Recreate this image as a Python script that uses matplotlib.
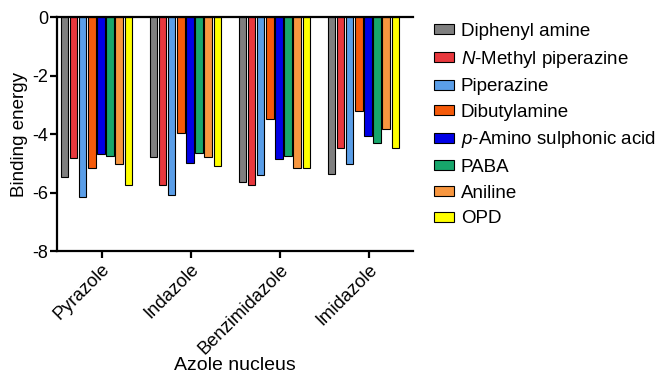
import matplotlib
matplotlib.use("Agg")
import matplotlib.pyplot as plt
import numpy as np

plt.rcParams['font.family'] = ['Liberation Sans', 'DejaVu Sans']
plt.rcParams['mathtext.fontset'] = 'custom'
plt.rcParams['mathtext.rm'] = 'Liberation Sans'
plt.rcParams['mathtext.it'] = 'Liberation Sans:italic'

categories = ["Pyrazole", "Indazole", "Benzimidazole", "Imidazole"]
series_names = ["Diphenyl amine", r"$\it{N}$-Methyl piperazine", "Piperazine", "Dibutylamine",
                r"$\it{p}$-Amino sulphonic acid", "PABA", "Aniline", "OPD"]
diphenyl_amine = [-5.46, -4.79, -5.63, -5.37]
n_methyl_piperazine = [-4.83, -5.74, -5.74, -4.49]
piperazine = [-6.16, -6.08, -5.40, -5.03]
dibutylamine = [-5.15, -3.97, -3.49, -3.21]
p_amino_sulphonic = [-4.68, -5.00, -4.86, -4.07]
paba = [-4.75, -4.66, -4.74, -4.32]
aniline = [-5.02, -4.79, -5.17, -3.83]
opd = [-5.74, -5.08, -5.17, -4.47]
series = [diphenyl_amine, n_methyl_piperazine, piperazine, dibutylamine,
          p_amino_sulphonic, paba, aniline, opd]
colors = ["#7f7f7f", "#e8383d", "#5a9ee8", "#f55a0a", "#0000e6", "#17a66b", "#f7963f", "#ffff00"]

fig = plt.figure(figsize=(6.6, 3.76), dpi=100)
ax = fig.add_axes([57/660, 1-251/376, 356/660, 233.7/376])

x = np.arange(len(categories))
slot = 0.102
width = 0.082
offset0 = -0.057
for i, (vals, c, name) in enumerate(zip(series, colors, series_names)):
    pos = x + offset0 + (i - 3.5) * slot
    ax.bar(pos, vals, width=width, color=c, edgecolor='black', linewidth=0.8, label=name)

ax.set_xlim(-0.5, 3.5)
ax.set_ylim(-8, 0)
ax.set_yticks([0, -2, -4, -6, -8])
ax.set_yticklabels(["0", "-2", "-4", "-6", "-8"])
ax.set_xticks(x)
ax.set_xticklabels(categories, rotation=45, ha='right', rotation_mode='anchor')
for s in ['left', 'bottom', 'top']:
    ax.spines[s].set_linewidth(1.6)
ax.spines['right'].set_visible(False)
ax.tick_params(axis='both', width=1.6, length=5, labelsize=13, pad=1.5, direction='out')
ax.tick_params(axis='x', pad=2, labelsize=13.2)
ax.set_ylabel("Binding energy", fontsize=13.5, labelpad=3)
ax.set_xlabel("Azole nucleus", fontsize=14, va='center')
ax.xaxis.set_label_coords(0.5, (251 - 365) / 233.7)

fig.legend(loc='upper left', bbox_to_anchor=(434/660, 1-23/376), frameon=False,
           fontsize=13.5, handlelength=1.07, handleheight=0.45, handletextpad=0.37,
           labelspacing=0.46, borderpad=0, borderaxespad=0)

fig.savefig("out.png", dpi=100)
